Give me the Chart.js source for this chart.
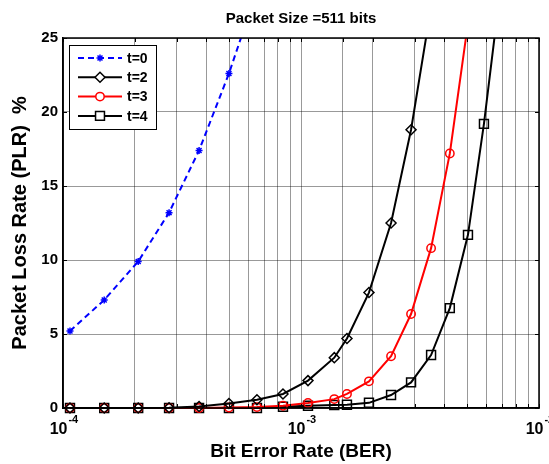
<!DOCTYPE html>
<html>
<head>
<meta charset="utf-8">
<script src="https://cdn.jsdelivr.net/npm/chart.js@4"></script>
<style>
  body { margin: 0; background: #fff; }
</style>
</head>
<body>
<canvas id="plr" width="549" height="464"></canvas>
<script>
// values
var ber = [1.07e-4, 1.49e-4, 2.07e-4, 2.79e-4, 3.73e-4, 4.98e-4, 6.53e-4, 8.4e-4,
           1.07e-3, 1.38e-3, 1.56e-3, 1.93e-3, 2.39e-3, 2.90e-3, 3.52e-3, 4.22e-3,
           5.03e-3, 5.87e-3, 6.8e-3];
var plrT0 = [5.2, 7.3, 9.9, 13.2, 17.4, 22.6, 28.2];
var plrT2 = [0, 0, 0, 0.02, 0.1, 0.3, 0.56, 0.95, 1.85, 3.4, 4.7, 7.8, 12.5, 18.8, 27.1];
var plrT3 = [0, 0, 0, 0, 0, 0.03, 0.06, 0.15, 0.34, 0.6, 0.95, 1.8, 3.5, 6.35, 10.8, 17.2, 26.0];
var plrT4 = [0, 0, 0, 0, 0, 0, 0, 0.08, 0.15, 0.2, 0.22, 0.35, 0.88, 1.73, 3.58, 6.75, 11.7, 19.2, 27.6];
var xTicks = [1e-4, 1e-3, 1e-2];
var xTickExp = ['-4', '-3', '-2'];
var yTicks = [0, 5, 10, 15, 20, 25];

var FONT = '"Liberation Sans", Arial, sans-serif';

function pts(vals) {
  return vals.map(function (v, i) { return { x: ber[i], y: v }; });
}

function series(label, vals, color, style, radius, dash) {
  return {
    label: label,
    data: pts(vals),
    borderColor: color,
    borderWidth: 2,
    borderDash: dash || [],
    backgroundColor: 'rgba(0,0,0,0)',
    pointStyle: style,
    pointRadius: radius,
    pointBorderWidth: 1.5,
    pointBorderColor: color,
    pointBackgroundColor: 'rgba(0,0,0,0)',
    tension: 0,
    clip: { left: 8, right: 0, top: 0, bottom: 8 }
  };
}

// box with inner ticks, legend inside the axes and 10^n tick labels
var extras = {
  id: 'extras',
  afterDatasetsDraw: function (chart) {
    var ctx = chart.ctx, a = chart.chartArea, xs = chart.scales.x, ys = chart.scales.y;
    ctx.save();
    ctx.strokeStyle = '#000';
    ctx.lineWidth = 1;
    ctx.beginPath();
    xs.ticks.forEach(function (t) {
      var px = Math.round(xs.getPixelForValue(t.value)) + 0.5;
      ctx.moveTo(px, a.top); ctx.lineTo(px, a.top + 4);
      ctx.moveTo(px, a.bottom); ctx.lineTo(px, a.bottom - 4);
    });
    ys.ticks.forEach(function (t) {
      var py = Math.round(ys.getPixelForValue(t.value)) + 0.5;
      ctx.moveTo(a.left, py); ctx.lineTo(a.left + 4, py);
      ctx.moveTo(a.right, py); ctx.lineTo(a.right - 4, py);
    });
    ctx.stroke();
    ctx.lineWidth = 1.5;
    ctx.strokeRect(a.left, a.top, a.right - a.left, a.bottom - a.top);

    // legend
    var bx = a.left + 6, by = a.top + 7, bw = 87, bh = 84;
    ctx.fillStyle = '#fff';
    ctx.fillRect(bx, by, bw, bh);
    ctx.lineWidth = 1;
    ctx.strokeRect(bx + 0.5, by + 0.5, bw, bh);
    chart.data.datasets.forEach(function (ds, i) {
      var y = by + 13 + i * 19.3;
      ctx.strokeStyle = ds.borderColor;
      ctx.lineWidth = 2;
      ctx.setLineDash(ds.borderDash);
      ctx.beginPath();
      ctx.moveTo(bx + 9, y);
      ctx.lineTo(bx + 53, y);
      ctx.stroke();
      ctx.setLineDash([]);
      ctx.lineWidth = 1.5;
      ctx.fillStyle = '#fff';
      Chart.helpers.drawPoint(ctx, { pointStyle: ds.pointStyle, radius: ds.pointRadius, rotation: 0, borderWidth: 1.5 }, bx + 31, y);
      ctx.fillStyle = '#000';
      ctx.font = 'bold 14px ' + FONT;
      ctx.textAlign = 'left';
      ctx.textBaseline = 'middle';
      ctx.fillText(ds.label, bx + 58, y + 1);
    });

    // x tick labels as powers of ten
    ctx.fillStyle = '#000';
    ctx.textBaseline = 'middle';
    ctx.textAlign = 'left';
    xTicks.forEach(function (v, i) {
      var px = xs.getPixelForValue(v);
      ctx.font = 'bold 16px ' + FONT;
      var w1 = ctx.measureText('10').width;
      ctx.font = 'bold 10px ' + FONT;
      var w2 = ctx.measureText(xTickExp[i]).width;
      var x0 = px - (w1 + w2) / 2;
      ctx.font = 'bold 16px ' + FONT;
      ctx.fillText('10', x0, a.bottom + 22);
      ctx.font = 'bold 11px ' + FONT;
      ctx.fillText(xTickExp[i], x0 + w1 + 1, a.bottom + 12);
    });
    ctx.restore();
  }
};

var ctx = document.getElementById('plr').getContext('2d');
var plrChart = new Chart(ctx, {
  type: 'line',
  data: {
    datasets: [
      series('t=0', plrT0, '#0000ff', 'star', 3.5, [6, 4]),
      series('t=2', plrT2, '#000000', 'rectRot', 5),
      series('t=3', plrT3, '#ff0000', 'circle', 4.2),
      series('t=4', plrT4, '#000000', 'rect', 6.3)
    ]
  },
  options: {
    responsive: false,
    devicePixelRatio: 1,
    animation: false,
    layout: { padding: { right: 10 } },
    plugins: {
      legend: { display: false },
      title: { display: false },
      tooltip: { enabled: false }
    },
    scales: {
      x: {
        type: 'logarithmic',
        min: 1e-4,
        max: 1e-2,
        grid: { color: 'rgba(0,0,0,0.4)', drawTicks: false },
        border: { color: '#000', width: 1.5 },
        ticks: { display: false, autoSkip: false },
        title: {
          display: true,
          text: 'Bit Error Rate (BER)',
          color: '#000',
          font: { family: FONT, size: 19, weight: 'bold' },
          padding: { top: 0, bottom: 1 }
        },
        afterFit: function (s) { s.height = 56; }
      },
      x2: {
        type: 'linear',
        position: 'top',
        grid: { display: false },
        border: { display: false },
        ticks: { display: false },
        title: {
          display: true,
          text: 'Packet Size =511 bits',
          color: '#000',
          font: { family: FONT, size: 15, weight: 'bold' },
          padding: { top: 10, bottom: 0 }
        },
        afterFit: function (s) { s.height = 38; }
      },
      y: {
        min: 0,
        max: 25,
        afterBuildTicks: function (s) {
          s.ticks = yTicks.map(function (v) { return { value: v }; });
        },
        grid: { color: 'rgba(0,0,0,0.4)', drawTicks: false },
        border: { color: '#000', width: 1.5 },
        ticks: {
          color: '#000',
          padding: 5,
          font: { family: FONT, size: 15, weight: 'bold' }
        },
        title: {
          display: true,
          text: 'Packet Loss Rate (PLR)  %',
          color: '#000',
          font: { family: FONT, size: 20, weight: 'bold' },
          padding: { top: 8, bottom: 0 }
        },
        afterFit: function (s) { s.width = 63; }
      }
    }
  },
  plugins: [extras]
});
</script>
</body>
</html>
